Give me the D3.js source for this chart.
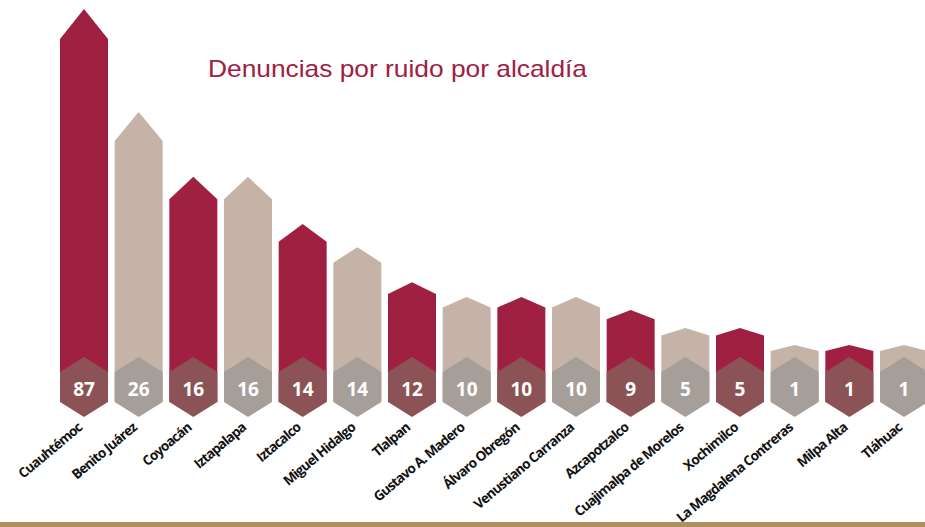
<!DOCTYPE html>
<html>
<head>
<meta charset="utf-8">
<script src="https://cdn.jsdelivr.net/npm/d3@7"></script>
<style>
  body { margin: 0; background: #fff; }
</style>
</head>
<body>
<div id="chart"></div>
<script>
// alcaldías, in the order of the picture
var alcaldias = ["Cuauhtémoc", "Benito Juárez", "Coyoacán", "Iztapalapa", "Iztacalco",
  "Miguel Hidalgo", "Tlalpan", "Gustavo A. Madero", "Álvaro Obregón", "Venustiano Carranza",
  "Azcapotzalco", "Cuajimalpa de Morelos", "Xochimilco", "La Magdalena Contreras",
  "Milpa Alta", "Tláhuac"];

// number of complaints written on each bar
var denuncias = [87, 26, 16, 16, 14, 14, 12, 10, 10, 10, 9, 5, 5, 1, 1, 1];

// relative bar height as drawn in the infographic (tallest = 100)
var alturaRelativa = [100, 73.8, 57.3, 57.3, 45.3, 39.4, 30.5, 26.7, 26.7, 26.7,
  23.4, 18.8, 18.8, 14.5, 14.5, 14.5];

var subtitulo = "Denuncias por ruido por alcaldía";

var width = 925, height = 527;
var base = 402;

var svg = d3.select("#chart")
  .append("svg")
    .attr("width", width)
    .attr("height", height);

var x = d3.scaleBand()
  .domain(alcaldias)
  .range([60, 928])
  .paddingInner(0.122)
  .paddingOuter(0);

var y = d3.scaleLinear()
  .domain([0, 100])
  .range([base, 9]);

var rojo = "#a02041", beige = "#c5b3a7";
var hexRojo = "#8c5357", hexBeige = "#a69e99";

var data = alcaldias.map(function(d, i) {
  return { name: d, value: denuncias[i], h: alturaRelativa[i], i: i };
});

// gold bottom rule
svg.append("rect")
  .attr("x", 0)
  .attr("y", 522)
  .attr("width", width)
  .attr("height", 5)
  .attr("fill", "#b08f5a");

// arrow shaped bars
svg.selectAll(".bar")
  .data(data)
  .enter()
  .append("path")
    .attr("class", "bar")
    .attr("fill", function(d) { return d.i % 2 ? beige : rojo; })
    .attr("d", function(d) {
      var x0 = x(d.name), x1 = x0 + x.bandwidth(), cx = x0 + x.bandwidth() / 2;
      var t = y(d.h);
      var tip = Math.max(6, Math.min(30, (base - t) * 0.1));
      return "M" + x0 + "," + base + "L" + x0 + "," + (t + tip) + "L" + cx + "," + t +
        "L" + x1 + "," + (t + tip) + "L" + x1 + "," + base + "Z";
    });

// hexagon badges
svg.selectAll(".hex")
  .data(data)
  .enter()
  .append("path")
    .attr("class", "hex")
    .attr("fill", function(d) { return d.i % 2 ? hexBeige : hexRojo; })
    .attr("d", function(d) {
      var x0 = x(d.name), x1 = x0 + x.bandwidth(), cx = x0 + x.bandwidth() / 2;
      return "M" + x0 + "," + (base - 30) + "L" + cx + "," + (base - 45) + "L" + x1 + "," + (base - 30) +
        "L" + x1 + "," + base + "L" + cx + "," + (base + 15) + "L" + x0 + "," + base + "Z";
    });

// numbers
svg.selectAll(".num")
  .data(data)
  .enter()
  .append("text")
    .attr("class", "num")
    .attr("x", function(d) { return x(d.name) + x.bandwidth() / 2; })
    .attr("y", base - 6)
    .attr("text-anchor", "middle")
    .attr("fill", "#fff")
    .style("font-family", "'Open Sans', sans-serif")
    .style("font-weight", "700")
    .style("font-size", "19px")
    .text(function(d) { return d.value; });

// rotated names
svg.selectAll(".name")
  .data(data)
  .enter()
  .append("text")
    .attr("class", "name")
    .attr("text-anchor", "end")
    .attr("transform", function(d) {
      var cx = x(d.name) + x.bandwidth() / 2;
      return "translate(" + (cx - 1) + "," + (base + 27) + ") rotate(-40)";
    })
    .attr("fill", "#111")
    .style("font-family", "'Open Sans', sans-serif")
    .style("font-weight", "700")
    .style("font-size", "13.6px")
    .style("letter-spacing", "-0.85px")
    .text(function(d) { return d.name; });

// subtitle
svg.append("text")
  .attr("x", 208)
  .attr("y", 77)
  .attr("fill", "#a02041")
  .attr("textLength", 379)
  .attr("lengthAdjust", "spacingAndGlyphs")
  .style("font-family", "'Liberation Sans', Arial, sans-serif")
  .style("font-size", "24px")
  .text(subtitulo);
</script>
</body>
</html>
